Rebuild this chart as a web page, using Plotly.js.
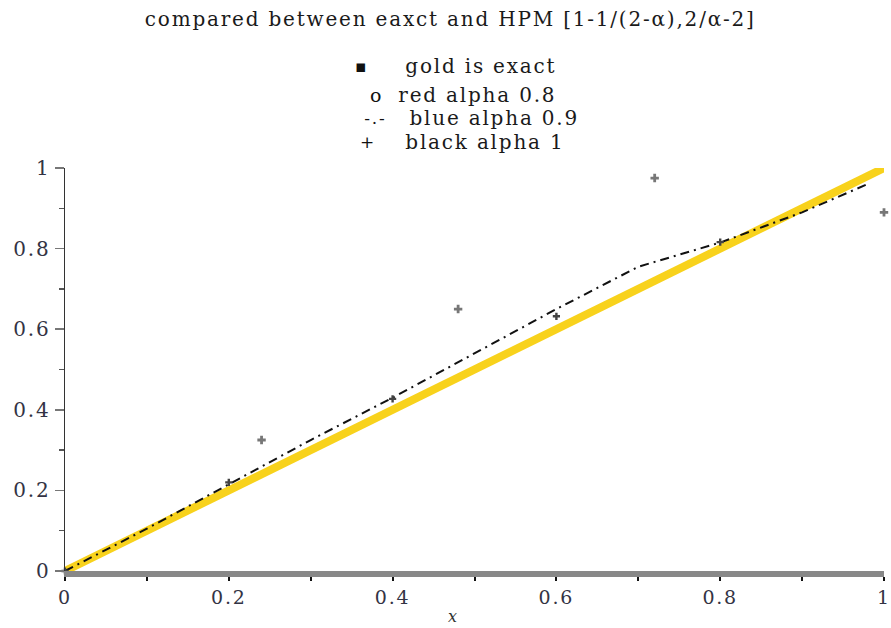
<!DOCTYPE html>
<html>
<head>
<meta charset="utf-8">
<script src="https://cdn.plot.ly/plotly-3.0.1.min.js"></script>
<style>
html,body{margin:0;padding:0;background:#fff;}
#chart{width:891px;height:628px;}
#chart text{letter-spacing:1.8px;}
</style>
</head>
<body>
<div id="chart"></div>
<script>
// Exact solution (gold)
const exactX = [0, 0.25, 0.5, 0.75, 1.0];
const exactY = [0, 0.25, 0.5, 0.75, 1.0];
// HPM alpha 0.9 (dash-dot)
const hpm09X = [0, 0.1, 0.2, 0.3, 0.4, 0.5, 0.6, 0.7, 0.8, 0.9, 0.98];
const hpm09Y = [0, 0.105, 0.215, 0.325, 0.43, 0.54, 0.65, 0.755, 0.815, 0.89, 0.96];
// HPM alpha 0.8 points
const hpm08X = [0.24, 0.48, 0.72, 1.0];
const hpm08Y = [0.325, 0.65, 0.975, 0.89];
// HPM alpha 1 points
const hpm1X = [0, 0.2, 0.4, 0.6, 0.8];
const hpm1Y = [0, 0.22, 0.427, 0.632, 0.816];

const titleText = "compared between eaxct and HPM [1-1/(2-α),2/α-2]";
const xTitleText = "<i>x</i>";
const legendSymbols = ["▪", "o", "-.-", "+"];
const legendTexts = ["gold is exact", "red alpha 0.8", "blue alpha 0.9", "black alpha 1"];
const legendY = [66, 95, 118, 142];
const symbolX = [362, 376, 375, 368];
const textX = [415, 408, 420, 415];

const serif = "DejaVu Serif, Liberation Serif, serif";
const px2x = p => (p - 65) / 819;
const px2y = p => (571 - p) / 403;

const traces = [
  {x: exactX, y: exactY, mode: 'lines', line: {color: '#F8D21C', width: 8}, hoverinfo: 'skip', cliponaxis: false},
  {x: hpm09X, y: hpm09Y, mode: 'lines', line: {color: '#111', width: 2, dash: '9px,5px,2px,5px'}, cliponaxis: false},
  {x: hpm08X, y: hpm08Y, mode: 'markers', marker: {symbol: 'cross', size: 7, color: '#777'}, cliponaxis: false},
  {x: hpm1X, y: hpm1Y, mode: 'markers', marker: {symbol: 'cross', size: 6, color: '#444'}, cliponaxis: false}
];

const annotations = [];
legendTexts.forEach((t, i) => {
  annotations.push({
    text: legendSymbols[i], xref: 'paper', yref: 'paper', x: px2x(symbolX[i]), y: px2y(legendY[i]),
    xanchor: 'center', yanchor: 'middle', showarrow: false,
    font: {family: serif, size: i === 1 ? 19 : 17, color: '#111'}
  });
  annotations.push({
    text: t, xref: 'paper', yref: 'paper', x: px2x(textX[i]), y: px2y(legendY[i]),
    xanchor: 'left', yanchor: 'middle', showarrow: false,
    font: {family: serif, size: 20, color: '#1a1a1a'}
  });
});
annotations.push({
  text: titleText, xref: 'paper', yref: 'paper', x: px2x(450), y: px2y(19),
  xanchor: 'center', yanchor: 'middle', showarrow: false,
  font: {family: serif, size: 20, color: '#1a1a1a'}
});
annotations.push({
  text: xTitleText, xref: 'paper', yref: 'paper', x: px2x(453), y: px2y(616),
  xanchor: 'center', yanchor: 'middle', showarrow: false,
  font: {family: serif, size: 16, color: '#333'}
});

const layout = {
  width: 891, height: 628,
  margin: {l: 65, r: 7, t: 168, b: 57},
  showlegend: false,
  paper_bgcolor: '#fff', plot_bgcolor: '#fff',
  xaxis: {
    range: [0, 1], showgrid: false, zeroline: false,
    showline: true, linecolor: '#888', linewidth: 6,
    ticks: 'outside', ticklen: 4, tickwidth: 2, tickcolor: '#111',
    dtick: 0.2, tick0: 0, ticklabeloverflow: 'allow',
    minor: {dtick: 0.1, ticks: 'outside', ticklen: 4, tickwidth: 2, tickcolor: '#111'},
    tickfont: {family: serif, size: 19, color: '#334'}
  },
  yaxis: {
    range: [0, 1], showgrid: false, zeroline: false,
    showline: true, linecolor: '#333', linewidth: 1.5,
    ticks: 'outside', ticklen: 9, tickwidth: 1.5, tickcolor: '#777',
    dtick: 0.2, tick0: 0, ticklabeloverflow: 'allow',
    minor: {dtick: 0.1, ticks: 'outside', ticklen: 5, tickwidth: 1.5, tickcolor: '#555'},
    tickfont: {family: serif, size: 20, color: '#334'}
  },
  annotations: annotations
};

Plotly.newPlot('chart', traces, layout, {displayModeBar: false, staticPlot: true});
</script>
</body>
</html>
